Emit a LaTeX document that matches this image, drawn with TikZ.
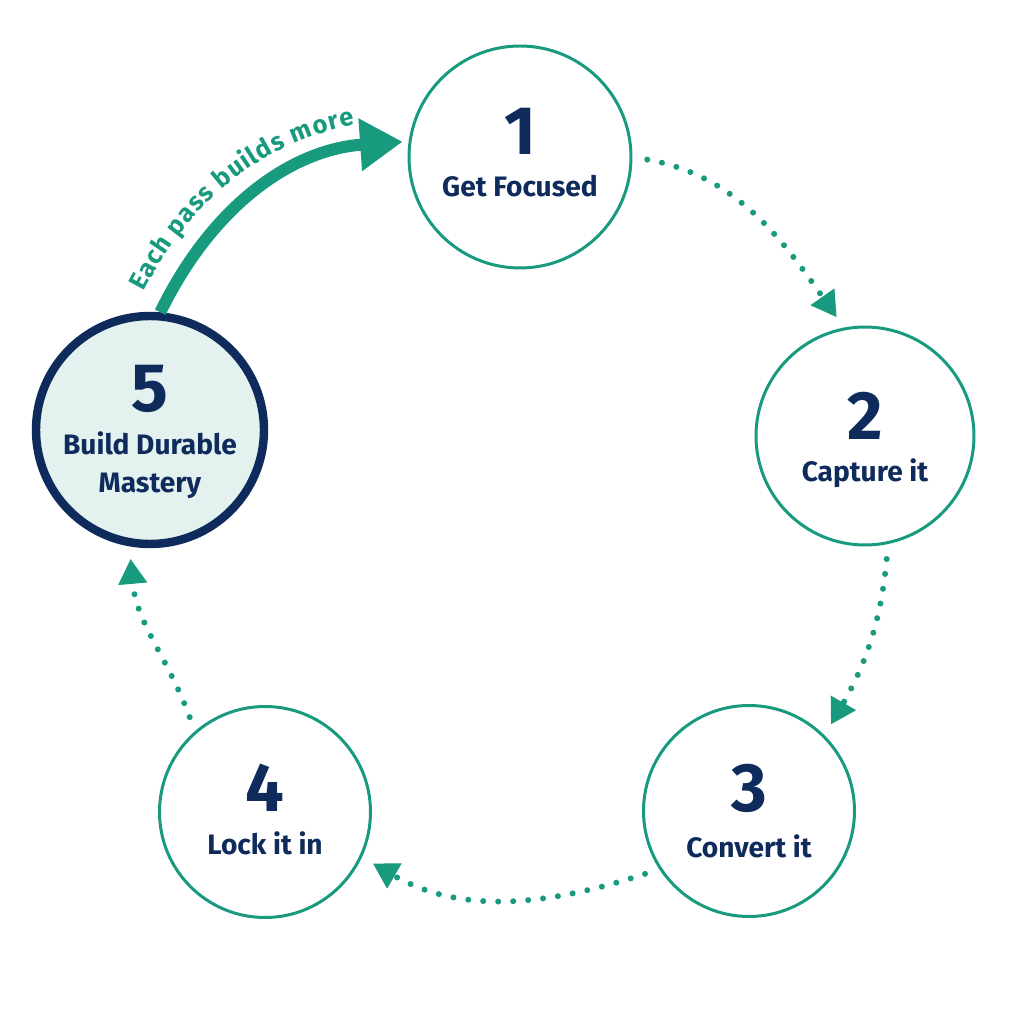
\documentclass[tikz,border=0pt]{standalone}
\usepackage{fontspec}
\setmainfont{Fira Sans}
\usetikzlibrary{arrows.meta,decorations.text}

\definecolor{cycteal}{HTML}{179A7E}
\definecolor{cycnavy}{HTML}{0E2B5C}
\definecolor{cycfill}{HTML}{E3F2EF}

\begin{document}
\begin{tikzpicture}
	\tikzstyle{ring}=[circle, draw=cycteal, line width=1.7pt, inner sep=0pt, minimum size=4.4cm]
	\tikzstyle{goal}=[circle, draw=cycnavy, fill=cycfill, line width=4.8pt, inner sep=0pt, minimum size=4.56cm]
	\tikzstyle{numtxt}=[anchor=base, text=cycnavy, font=\fontsize{39}{40}\selectfont\bfseries]
	\tikzstyle{labtxt}=[anchor=base, text=cycnavy, font=\fontsize{16}{19}\selectfont\bfseries]
	\tikzstyle{flow}=[draw=cycteal, line width=0.12cm, line cap=round, dash pattern=on 0pt off 0.3cm,
		-{Triangle[length=0.5cm,width=0.55cm]}, shorten <=0.3cm, shorten >=0.25cm]
	\tikzstyle{loopback}=[draw=cycteal, line width=0.24cm, -{Triangle[length=0.85cm,width=1.0cm]}, shorten >=0.12cm]

	\fill[white] (0,0) rectangle (20.48,20.48);
	\useasboundingbox (0,0) rectangle (20.48,20.48);

	% the five steps
	\node[ring, minimum size=4.44cm] (c1) at (10.40, 17.34) {};
	\node[ring, minimum size=4.36cm] (c2) at (17.30, 11.76) {};
	\node[ring, minimum size=4.22cm] (c3) at (14.98, 4.26) {};
	\node[ring, minimum size=4.22cm] (c4) at (5.30, 4.24) {};
	\node[goal] (c5) at (3.00, 11.88) {};

	\node[numtxt] (n1) at (10.40, 17.38) {1};
	\node[labtxt] (l1) at (10.40, 16.54) {Get Focused};
	\node[numtxt] (n2) at (17.30, 11.68) {2};
	\node[labtxt] (l2) at (17.30, 10.84) {Capture it};
	\node[numtxt] (n3) at (14.98, 4.24) {3};
	\node[labtxt] (l3) at (14.98, 3.32) {Convert it};
	\node[numtxt] (n4) at (5.30, 4.24) {4};
	\node[labtxt] (l4) at (5.30, 3.38) {Lock it in};
	\node[numtxt] (n5) at (3.00, 12.24) {5};
	\node[labtxt] (l5a) at (3.00, 11.38) {Build Durable};
	\node[labtxt] (l5b) at (3.00, 10.62) {Mastery};

	% dotted steps round the cycle
	\foreach \from/\fa/\to/\ta/\o/\i in {c1/0/c2/101/-10/125, c2/-78/c3/45/-95/60, c3/213/c4/-25/198/-30, c4/131/c5/-100/110/-85}
	\draw[flow] (\from.\fa) to[out=\o,in=\i] (\to.\ta);

	% back to the start
	\draw[loopback] (c5.85) to[out=64,in=184] (c1.172);
	\path[decorate, decoration={text along path, text align={left, left indent=0.2cm}, raise=0.48cm,
		text={|\fontsize{14.5}{17}\selectfont\bfseries\color{cycteal}|Each pass builds more}}]
		(c5.85) to[out=64,in=184] (c1.172);
\end{tikzpicture}
\end{document}
